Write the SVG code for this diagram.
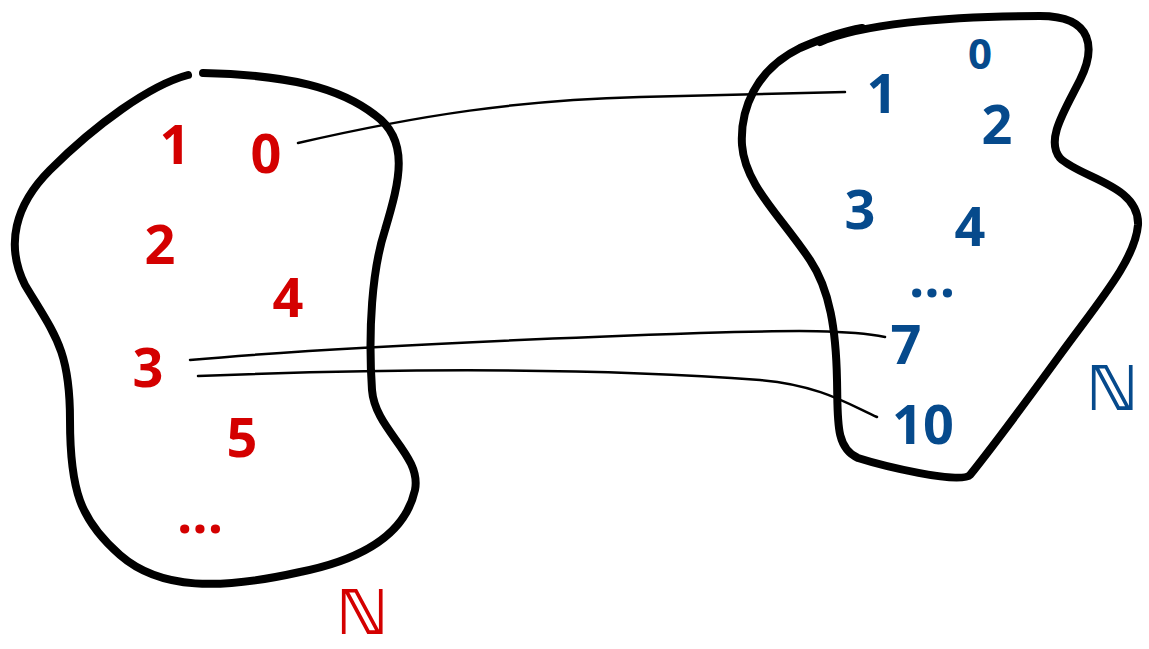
<svg xmlns="http://www.w3.org/2000/svg" width="1149" height="649" viewBox="0 0 1149 649">
<style>
.blob{fill:none;stroke:#000;stroke-width:8;stroke-linecap:round;stroke-linejoin:round}
.conn{fill:none;stroke:#000;stroke-width:2.5;stroke-linecap:round}
.r{fill:#d40000}
.b{fill:#064a8c}
text{font-family:"Open Sans","DejaVu Sans",sans-serif;font-weight:bold;font-size:54px;text-anchor:middle;dominant-baseline:central}
.nn{font-family:"DejaVu Sans",sans-serif;font-size:62px;font-weight:bold}
.sm{font-size:42px}
</style>
<rect width="1149" height="649" fill="#fff"/>
<g id="left-set">
<path class="blob" d="M188,75 C150,85 95,125 50,170 C15,205 5,245 25,285 C55,335 70,350 70,420 C70,490 80,520 120,555 C160,590 220,590 300,572 C360,560 405,535 415,490 C422,455 375,430 372,390 C368,330 372,270 385,230 C400,180 410,140 375,115 C340,88 290,75 203,73"/>
<text class="r" x="175" y="143">1</text>
<text class="r" x="266" y="152">0</text>
<text class="r" x="160" y="243">2</text>
<text class="r" x="288" y="296">4</text>
<text class="r" x="148" y="366">3</text>
<text class="r" x="242" y="436">5</text>
<text class="r" x="200" y="512">...</text>
<text class="r nn" x="362" y="612">ℕ</text>
</g>
<g id="right-set">
<path class="blob" d="M820,42 C860,25 940,16 1040,16 C1095,16 1095,50 1080,80 C1065,110 1045,140 1060,158 C1080,178 1140,185 1138,225 C1135,260 1100,300 1060,355 C1020,410 990,450 970,475 C960,485 880,465 858,458 C835,448 838,420 837,380 C836,330 830,290 810,260 C780,215 745,185 742,145 C740,110 755,70 800,48 C830,35 850,30 862,28"/>
<text class="b sm" x="980" y="52">0</text>
<text class="b" x="882" y="92">1</text>
<text class="b" x="997" y="123">2</text>
<text class="b" x="860" y="208">3</text>
<text class="b" x="970" y="225">4</text>
<text class="b" x="932" y="276">...</text>
<text class="b" x="906" y="343">7</text>
<text class="b" x="923" y="423">10</text>
<text class="b nn" x="1112" y="388">ℕ</text>
</g>
<g id="connectors">
<path class="conn" d="M298,143 C420,115 520,100 640,97 C740,94 800,93 845,92"/>
<path class="conn" d="M190,360 C300,350 500,340 700,333 C800,330 850,330 885,337"/>
<path class="conn" d="M198,376 C400,368 600,368 760,380 C820,385 850,405 877,417"/>
</g>
</svg>
